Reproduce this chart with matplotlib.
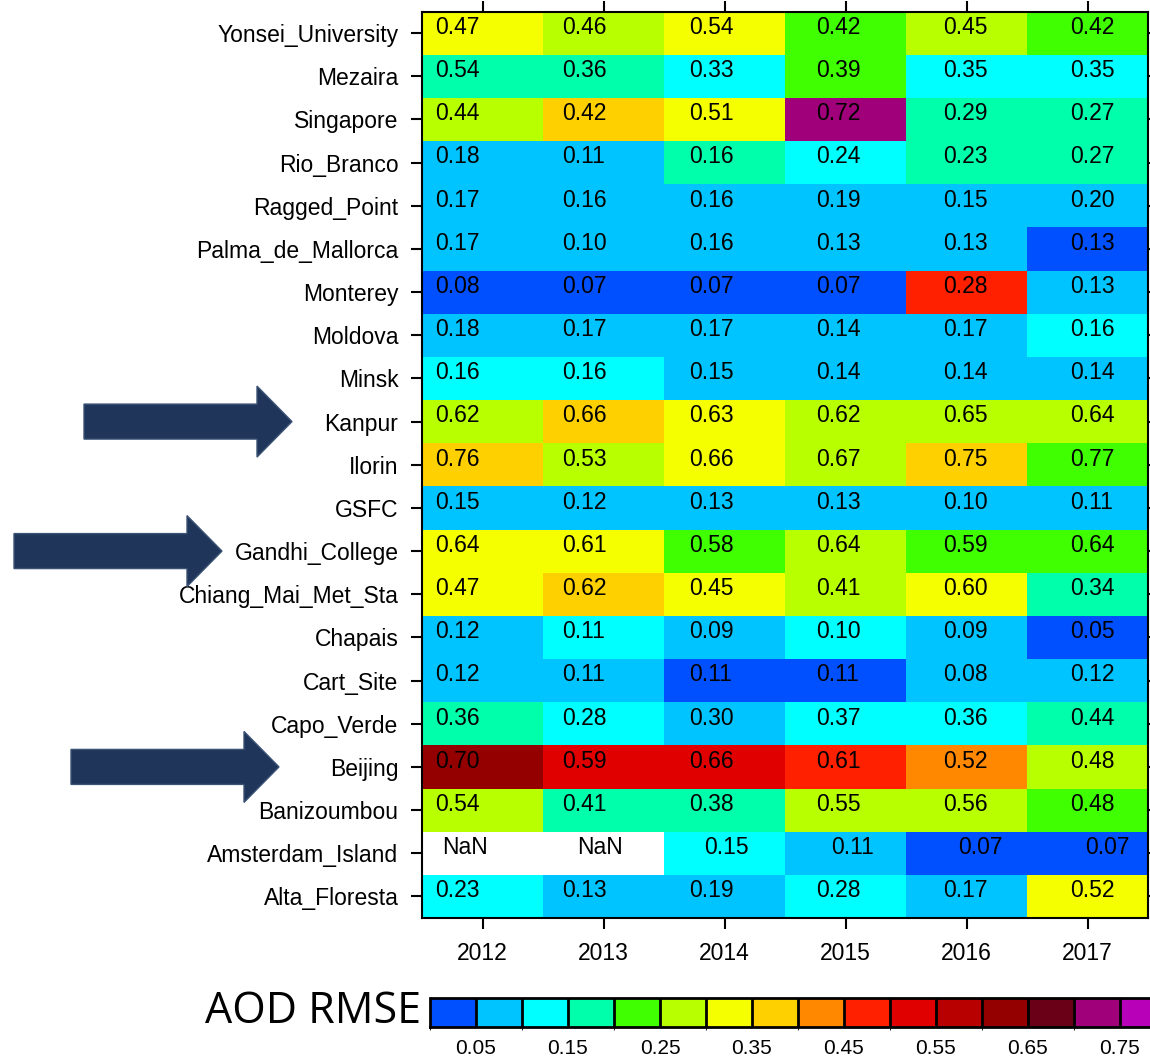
import numpy as np
import matplotlib
matplotlib.use("Agg")
import matplotlib.pyplot as plt
from matplotlib.colors import ListedColormap, BoundaryNorm
from matplotlib.cm import ScalarMappable
from matplotlib.patches import FancyArrow
from matplotlib.transforms import IdentityTransform

plt.rcParams["font.family"] = ["Liberation Sans", "DejaVu Sans"]

years = ["2012", "2013", "2014", "2015", "2016", "2017"]

stations = ["Yonsei_University", "Mezaira", "Singapore", "Rio_Branco", "Ragged_Point",
            "Palma_de_Mallorca", "Monterey", "Moldova", "Minsk", "Kanpur", "Ilorin", "GSFC",
            "Gandhi_College", "Chiang_Mai_Met_Sta", "Chapais", "Cart_Site", "Capo_Verde",
            "Beijing", "Banizoumbou", "Amsterdam_Island", "Alta_Floresta"]

nan = np.nan
# printed RMSE values, one row per station
rmse = np.array([
    [0.47, 0.46, 0.54, 0.42, 0.45, 0.42],
    [0.54, 0.36, 0.33, 0.39, 0.35, 0.35],
    [0.44, 0.42, 0.51, 0.72, 0.29, 0.27],
    [0.18, 0.11, 0.16, 0.24, 0.23, 0.27],
    [0.17, 0.16, 0.16, 0.19, 0.15, 0.20],
    [0.17, 0.10, 0.16, 0.13, 0.13, 0.13],
    [0.08, 0.07, 0.07, 0.07, 0.28, 0.13],
    [0.18, 0.17, 0.17, 0.14, 0.17, 0.16],
    [0.16, 0.16, 0.15, 0.14, 0.14, 0.14],
    [0.62, 0.66, 0.63, 0.62, 0.65, 0.64],
    [0.76, 0.53, 0.66, 0.67, 0.75, 0.77],
    [0.15, 0.12, 0.13, 0.13, 0.10, 0.11],
    [0.64, 0.61, 0.58, 0.64, 0.59, 0.64],
    [0.47, 0.62, 0.45, 0.41, 0.60, 0.34],
    [0.12, 0.11, 0.09, 0.10, 0.09, 0.05],
    [0.12, 0.11, 0.11, 0.11, 0.08, 0.12],
    [0.36, 0.28, 0.30, 0.37, 0.36, 0.44],
    [0.70, 0.59, 0.66, 0.61, 0.52, 0.48],
    [0.54, 0.41, 0.38, 0.55, 0.56, 0.48],
    [nan, nan, 0.15, 0.11, 0.07, 0.07],
    [0.23, 0.13, 0.19, 0.28, 0.17, 0.52],
])

# colour class of each cell (index into the colour bar boxes, 0.05 wide each)
color_bin = np.array([
    [6, 5, 6, 4, 5, 4],
    [3, 3, 2, 4, 2, 2],
    [5, 7, 6, 14, 3, 3],
    [1, 1, 3, 2, 3, 3],
    [1, 1, 1, 1, 1, 1],
    [1, 1, 1, 1, 1, 0],
    [0, 0, 0, 0, 9, 1],
    [1, 1, 1, 1, 1, 2],
    [2, 2, 1, 1, 1, 1],
    [5, 7, 6, 5, 5, 5],
    [7, 5, 6, 5, 7, 4],
    [1, 1, 1, 1, 1, 1],
    [6, 6, 4, 5, 4, 4],
    [6, 7, 6, 5, 6, 3],
    [1, 2, 1, 2, 1, 0],
    [1, 1, 0, 0, 1, 1],
    [3, 2, 1, 2, 2, 3],
    [12, 10, 10, 9, 8, 5],
    [5, 3, 3, 5, 5, 4],
    [nan, nan, 2, 1, 0, 0],
    [2, 1, 1, 2, 1, 6],
])

bar_colors = ["#0050FF", "#00C4FF", "#00FFFF", "#00FFAA", "#40FF00", "#B8FF00",
              "#F5FF00", "#FFD000", "#FF8800", "#FF2000", "#E00000", "#B80000",
              "#940000", "#6A0018", "#A0007A", "#B800B8"]
bounds = np.round(np.arange(0, 0.85, 0.05), 2)
bar_ticks = [0.05, 0.15, 0.25, 0.35, 0.45, 0.55, 0.65, 0.75]

highlighted = {"Kanpur": 292, "Gandhi_College": 222, "Beijing": 279}

W, H = 1150, 1060
fig = plt.figure(figsize=(W / 100, H / 100), dpi=100)
ax = fig.add_axes([422 / W, 1 - 918 / H, (1148 - 422) / W, (918 - 11.5) / H])

cmap = ListedColormap(bar_colors)
norm = BoundaryNorm(bounds, cmap.N)
cell_values = np.ma.masked_invalid((color_bin + 0.5) * 0.05)
ax.pcolormesh(np.arange(len(years) + 1) - 0.5, np.arange(len(stations) + 1) - 0.5,
              cell_values, cmap=cmap, norm=norm, antialiased=False, linewidth=0)
ax.set_xlim(-0.5, len(years) - 0.5)
ax.set_ylim(len(stations) - 0.5, -0.5)

for r, name in enumerate(stations):
    for c in range(len(years)):
        v = rmse[r, c]
        label = "NaN" if np.isnan(v) else f"{v:.2f}"
        shift = 0.0
        if name == "Amsterdam_Island":
            shift = 0.06 if c == 0 else 0.12
        ax.text(-0.39 + 1.05 * c + shift, r + 0.02, label, ha="left", va="baseline",
                fontsize=16.5, color="black")

ax.set_xticks(range(len(years)))
ax.set_xticklabels(years, fontsize=16.5)
ax.set_yticks(range(len(stations)))
ax.set_yticklabels(stations, fontsize=16.5)
ax.tick_params(direction="out", length=8, width=1.5, top=True, right=True, pad=9)
for s in ax.spines.values():
    s.set_linewidth(1.5)

# colour bar, runs past the right edge of the figure
cax = fig.add_axes([430 / W, 1 - 1027 / H, 16 * 46 / W, 29 / H])
cb = fig.colorbar(ScalarMappable(norm=norm, cmap=cmap), cax=cax, orientation="horizontal",
                  drawedges=True, ticks=bar_ticks)
cb.dividers.set_linewidth(2)
cb.dividers.set_color("black")
cb.outline.set_linewidth(2)
cax.tick_params(length=0, pad=8.5, labelsize=15)
cax.set_xticklabels([f"{t:.2f}" for t in bar_ticks])
fig.text(421 / W, 1 - 1012 / H, "AOD RMSE", ha="right", va="center", fontsize=31,
         family=["Open Sans", "DejaVu Sans"])

# arrows pointing at the highlighted stations
for name, tip_x in highlighted.items():
    y = ax.transData.transform((0, stations.index(name)))[1]
    arrow = FancyArrow(tip_x - 208, y, 208, 0, width=35, head_width=71, head_length=35,
                       length_includes_head=True, facecolor="#1F3559", edgecolor="#3B5375",
                       linewidth=1, transform=IdentityTransform())
    fig.add_artist(arrow)

fig.savefig("out.png", dpi=100)
